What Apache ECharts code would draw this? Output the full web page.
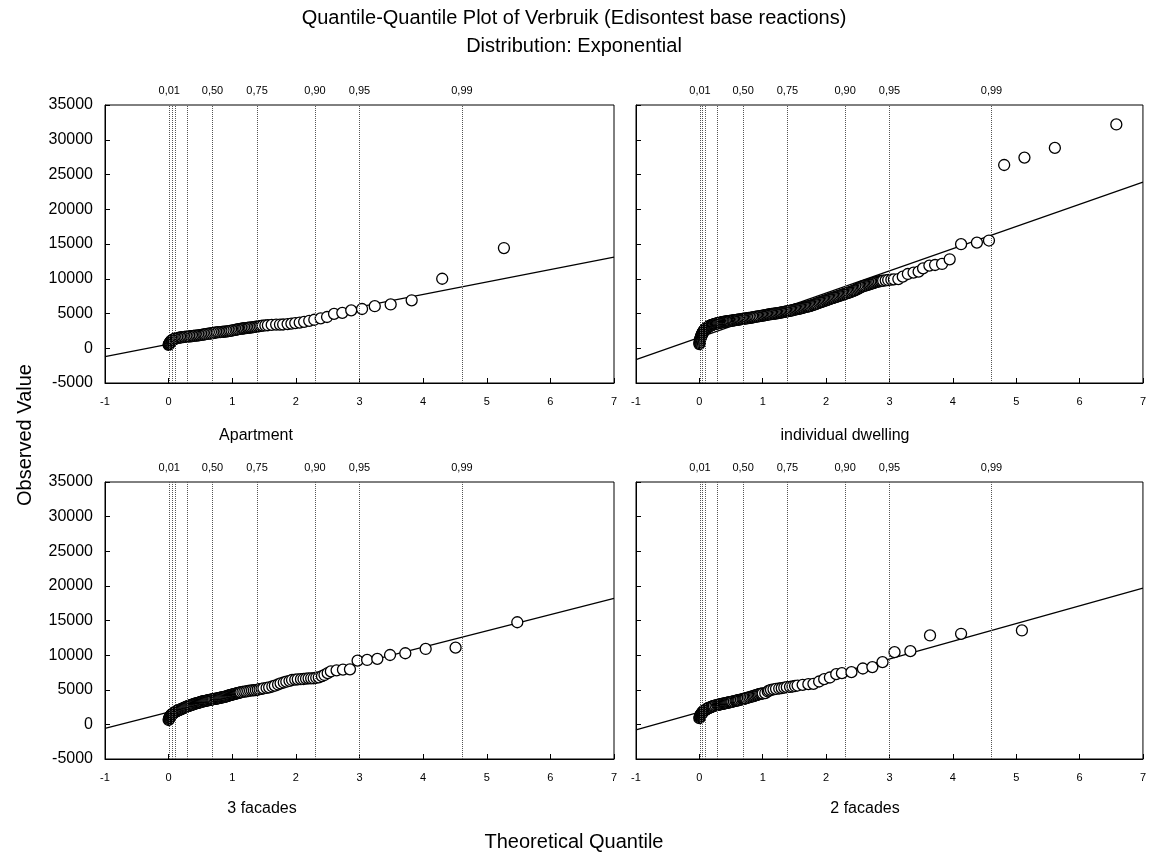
<!DOCTYPE html>
<html lang="en">
  <head>
    <meta charset="utf-8" />
    <title>Quantile-Quantile Plot of Verbruik</title>
    <style>
      * {
        margin: 0;
        padding: 0;
      }

      #chart-container {
        position: relative;
        width: 1149px;
        height: 856px;
        overflow: hidden;
        background: #fff;
      }
    </style>
  </head>

  <body>
    <div id="chart-container"></div>
    <script src="https://cdn.jsdelivr.net/npm/echarts@6/dist/echarts.min.js"></script>
    <script>
      // panel names, in drawing order: top-left, top-right, bottom-left, bottom-right
      var panelNames = ["Apartment", "individual dwelling", "3 facades", "2 facades"];

      // dotted reference lines (exponential quantiles) and their labels
      var quantilePos = [0.01, 0.05, 0.105, 0.29, 0.69, 1.39, 2.30, 3.00, 4.61];
      var quantileLabels = ["0,01", "", "", "", "0,50", "0,75", "0,90", "0,95", "0,99"];

      // tick labels
      var xTicks = [-1, 0, 1, 2, 3, 4, 5, 6, 7];
      var yTicks = [-5000, 0, 5000, 10000, 15000, 20000, 25000, 30000, 35000];

      var apartment = [
        [0.0, 480], [0.005, 560], [0.01, 650], [0.015, 740], [0.02, 820], [0.03, 950],
        [0.04, 1060], [0.05, 1120], [0.06, 1180], [0.07, 1240], [0.08, 1300], [0.1, 1370],
        [0.115, 1410], [0.13, 1440], [0.15, 1480], [0.17, 1520], [0.19, 1560], [0.21, 1590],
        [0.23, 1615], [0.25, 1640], [0.275, 1660], [0.3, 1680], [0.325, 1705], [0.35, 1730],
        [0.37, 1755], [0.39, 1780], [0.415, 1805], [0.44, 1830], [0.465, 1855], [0.49, 1880],
        [0.515, 1915], [0.54, 1950], [0.56, 1985], [0.58, 2020], [0.605, 2055], [0.63, 2090],
        [0.655, 2125], [0.68, 2160], [0.705, 2195], [0.73, 2230], [0.755, 2270], [0.78, 2310],
        [0.81, 2330], [0.84, 2350], [0.865, 2375], [0.89, 2400], [0.915, 2435], [0.94, 2470],
        [0.965, 2510], [0.99, 2550], [1.02, 2600], [1.05, 2650], [1.075, 2700], [1.1, 2740],
        [1.125, 2775], [1.15, 2810], [1.17, 2845], [1.19, 2880], [1.215, 2905], [1.24, 2930],
        [1.26, 2955], [1.28, 2980], [1.305, 3015], [1.33, 3050], [1.355, 3075], [1.38, 3100],
        [1.405, 3145], [1.43, 3190], [1.455, 3220], [1.48, 3250], [1.52, 3280], [1.56, 3310],
        [1.62, 3360], [1.69, 3400], [1.75, 3410], [1.8, 3420], [1.87, 3480], [1.93, 3550],
        [1.99, 3620], [2.06, 3700], [2.13, 3800], [2.21, 3950], [2.29, 4100], [2.39, 4300],
        [2.49, 4500], [2.6, 4950], [2.73, 5100], [2.87, 5450], [3.04, 5650], [3.24, 6050],
        [3.49, 6300], [3.82, 6900], [4.3, 10000], [5.27, 14420]
      ];
      var dwelling = [
        [0.0, 600], [0.003, 750], [0.005, 900], [0.008, 1050], [0.01, 1200], [0.015, 1350],
        [0.02, 1500], [0.025, 1650], [0.03, 1800], [0.035, 1880], [0.04, 1980], [0.045, 2100],
        [0.05, 2170], [0.055, 2260], [0.06, 2350], [0.065, 2420], [0.07, 2480], [0.075, 2540],
        [0.08, 2600], [0.085, 2650], [0.09, 2700], [0.095, 2750], [0.1, 2800], [0.108, 2850],
        [0.115, 2900], [0.122, 2950], [0.13, 3000], [0.138, 3050], [0.145, 3100], [0.152, 3150],
        [0.16, 3200], [0.17, 3240], [0.18, 3280], [0.19, 3315], [0.2, 3350], [0.212, 3390],
        [0.225, 3430], [0.237, 3465], [0.25, 3500], [0.262, 3530], [0.275, 3560], [0.288, 3590],
        [0.3, 3620], [0.315, 3655], [0.33, 3690], [0.345, 3720], [0.36, 3750], [0.375, 3775],
        [0.39, 3800], [0.405, 3825], [0.42, 3850], [0.435, 3870], [0.45, 3890], [0.465, 3910],
        [0.48, 3930], [0.5, 3955], [0.52, 3980], [0.535, 4005], [0.55, 4030], [0.57, 4055],
        [0.59, 4080], [0.605, 4105], [0.62, 4130], [0.64, 4160], [0.66, 4190], [0.68, 4220],
        [0.7, 4250], [0.72, 4275], [0.74, 4300], [0.76, 4325], [0.78, 4350], [0.8, 4380],
        [0.82, 4410], [0.84, 4445], [0.86, 4480], [0.88, 4515], [0.9, 4550], [0.925, 4585],
        [0.95, 4620], [0.975, 4660], [1.0, 4700], [1.02, 4740], [1.04, 4780], [1.06, 4810],
        [1.08, 4840], [1.1, 4870], [1.12, 4900], [1.14, 4925], [1.16, 4950], [1.18, 4975],
        [1.2, 5000], [1.22, 5030], [1.24, 5060], [1.26, 5095], [1.28, 5130], [1.3, 5165],
        [1.32, 5200], [1.34, 5235], [1.36, 5270], [1.38, 5305], [1.4, 5340], [1.42, 5380],
        [1.44, 5420], [1.46, 5460], [1.48, 5500], [1.5, 5540], [1.52, 5580], [1.54, 5620],
        [1.56, 5660], [1.58, 5705], [1.6, 5750], [1.62, 5800], [1.64, 5850], [1.66, 5900],
        [1.68, 5950], [1.7, 5990], [1.72, 6030], [1.74, 6075], [1.76, 6120], [1.78, 6185],
        [1.8, 6250], [1.82, 6315], [1.84, 6380], [1.86, 6445], [1.88, 6510], [1.9, 6580],
        [1.92, 6650], [1.94, 6710], [1.96, 6770], [1.98, 6835], [2.0, 6900], [2.02, 6965],
        [2.04, 7030], [2.06, 7100], [2.08, 7170], [2.1, 7225], [2.12, 7280], [2.14, 7340],
        [2.16, 7400], [2.18, 7460], [2.2, 7520], [2.22, 7585], [2.24, 7650], [2.26, 7710],
        [2.28, 7770], [2.3, 7835], [2.32, 7900], [2.34, 7955], [2.36, 8010], [2.38, 8070],
        [2.4, 8130], [2.42, 8210], [2.44, 8290], [2.46, 8370], [2.48, 8450], [2.5, 8550],
        [2.52, 8650], [2.54, 8750], [2.56, 8850], [2.58, 8915], [2.6, 8980], [2.625, 9040],
        [2.65, 9100], [2.67, 9160], [2.69, 9220], [2.71, 9280], [2.73, 9340], [2.75, 9400],
        [2.77, 9460], [2.79, 9520], [2.81, 9580], [2.835, 9615], [2.86, 9650], [2.88, 9685],
        [2.9, 9720], [2.94, 9770], [2.98, 9820], [3.03, 9870], [3.07, 9910], [3.14, 9960],
        [3.21, 10300], [3.29, 10680], [3.38, 10880], [3.46, 11020], [3.53, 11500], [3.63, 11890],
        [3.72, 11980], [3.83, 12130], [3.95, 12800], [4.13, 14970], [4.38, 15200], [4.57, 15500],
        [4.81, 26370], [5.13, 27430], [5.61, 28830], [6.58, 32200]
      ];
      var threeFacades = [
        [0.0, 630], [0.005, 760], [0.01, 900], [0.015, 1000], [0.02, 1110], [0.025, 1170],
        [0.03, 1230], [0.035, 1290], [0.04, 1350], [0.047, 1410], [0.055, 1470], [0.062, 1530],
        [0.07, 1590], [0.08, 1655], [0.09, 1720], [0.1, 1785], [0.11, 1850], [0.122, 1905],
        [0.135, 1960], [0.147, 2015], [0.16, 2070], [0.175, 2125], [0.19, 2180], [0.205, 2240],
        [0.22, 2300], [0.235, 2360], [0.25, 2420], [0.265, 2485], [0.28, 2550], [0.295, 2600],
        [0.31, 2650], [0.325, 2700], [0.34, 2750], [0.355, 2800], [0.37, 2850], [0.385, 2895],
        [0.4, 2940], [0.415, 2980], [0.43, 3020], [0.445, 3060], [0.46, 3100], [0.475, 3145],
        [0.49, 3190], [0.505, 3235], [0.52, 3280], [0.535, 3310], [0.55, 3340], [0.565, 3370],
        [0.58, 3400], [0.595, 3430], [0.61, 3460], [0.625, 3490], [0.64, 3520], [0.655, 3550],
        [0.67, 3580], [0.685, 3610], [0.7, 3640], [0.72, 3670], [0.74, 3700], [0.755, 3730],
        [0.77, 3760], [0.785, 3790], [0.8, 3820], [0.815, 3850], [0.83, 3880], [0.845, 3910],
        [0.86, 3940], [0.875, 3970], [0.89, 4000], [0.905, 4045], [0.92, 4090], [0.935, 4130],
        [0.95, 4170], [0.965, 4215], [0.98, 4260], [0.995, 4300], [1.01, 4340], [1.025, 4375],
        [1.04, 4410], [1.055, 4445], [1.07, 4480], [1.085, 4520], [1.1, 4560], [1.115, 4595],
        [1.13, 4630], [1.16, 4680], [1.19, 4720], [1.22, 4770], [1.25, 4820], [1.28, 4860],
        [1.31, 4900], [1.34, 4930], [1.37, 4960], [1.4, 5020], [1.43, 5080], [1.46, 5140],
        [1.49, 5200], [1.54, 5270], [1.58, 5350], [1.63, 5470], [1.67, 5590], [1.72, 5760],
        [1.76, 5930], [1.81, 6050], [1.85, 6170], [1.9, 6290], [1.94, 6410], [1.99, 6460],
        [2.03, 6510], [2.08, 6530], [2.12, 6550], [2.16, 6600], [2.2, 6650], [2.24, 6650],
        [2.28, 6660], [2.32, 6730], [2.36, 6800], [2.41, 6960], [2.45, 7130], [2.5, 7400],
        [2.55, 7650], [2.64, 7800], [2.74, 7900], [2.85, 7950], [2.97, 9200], [3.12, 9300],
        [3.28, 9450], [3.48, 10020], [3.72, 10270], [4.04, 10890], [4.51, 11080], [5.48, 14750]
      ];
      var twoFacades = [
        [0.0, 900], [0.005, 1030], [0.01, 1150], [0.015, 1260], [0.02, 1380], [0.025, 1440],
        [0.03, 1500], [0.035, 1560], [0.04, 1620], [0.045, 1680], [0.05, 1740], [0.055, 1800],
        [0.06, 1860], [0.067, 1915], [0.075, 1970], [0.082, 2025], [0.09, 2080], [0.1, 2135],
        [0.11, 2190], [0.12, 2240], [0.13, 2290], [0.142, 2340], [0.155, 2390], [0.167, 2435],
        [0.18, 2480], [0.192, 2530], [0.205, 2580], [0.217, 2630], [0.23, 2680], [0.255, 2740],
        [0.28, 2800], [0.295, 2830], [0.31, 2860], [0.325, 2890], [0.34, 2920], [0.355, 2950],
        [0.37, 2980], [0.385, 3010], [0.4, 3040], [0.415, 3070], [0.43, 3100], [0.445, 3130],
        [0.46, 3160], [0.475, 3190], [0.49, 3220], [0.505, 3250], [0.52, 3280], [0.545, 3340],
        [0.57, 3400], [0.585, 3430], [0.6, 3460], [0.615, 3490], [0.63, 3520], [0.655, 3580],
        [0.68, 3640], [0.695, 3675], [0.71, 3710], [0.725, 3745], [0.74, 3780], [0.765, 3850],
        [0.79, 3930], [0.815, 3990], [0.84, 4050], [0.86, 4110], [0.88, 4170], [0.9, 4230],
        [0.92, 4290], [0.94, 4350], [0.96, 4410], [0.98, 4435], [1.0, 4460], [1.04, 4510],
        [1.08, 4750], [1.1, 4870], [1.13, 4990], [1.17, 5060], [1.21, 5130], [1.26, 5180],
        [1.3, 5230], [1.34, 5300], [1.38, 5370], [1.43, 5420], [1.47, 5470], [1.51, 5540],
        [1.55, 5610], [1.63, 5710], [1.72, 5810], [1.8, 5850], [1.89, 6190], [1.97, 6530],
        [2.06, 6770], [2.16, 7250], [2.25, 7400], [2.4, 7540], [2.58, 8070], [2.73, 8270],
        [2.89, 8980], [3.08, 10430], [3.33, 10570], [3.64, 12840], [4.13, 13080], [5.09, 13560]
      ];
      var panelPoints = [apartment, dwelling, threeFacades, twoFacades];

      // fitted lines, read at the left and right edge of each panel
      var fitLines = [
        [[-1, -1200], [7, 13100]],
        [[-1, -1640], [7, 23900]],
        [[-1, -580], [7, 18200]],
        [[-1, -790], [7, 19670]]
      ];

      var dom = document.getElementById("chart-container");
      var myChart = echarts.init(dom, null, { renderer: "canvas" });

      var FONT = "Liberation Sans, Arial, sans-serif";
      var boxes = [
        { left: 105, top: 105, width: 509, height: 278 },
        { left: 636, top: 105, width: 508, height: 278 },
        { left: 105, top: 482, width: 509, height: 277 },
        { left: 636, top: 482, width: 508, height: 277 }
      ];
      var labelPos = [
        [256, 436], [845, 436], [262, 809], [865, 809]
      ];

      var grids = [], xAxes = [], yAxes = [], series = [], texts = [];
      boxes.forEach(function (b, i) {
        grids.push({
          left: b.left, top: b.top, width: b.width, height: b.height,
          show: true, borderColor: "#000", borderWidth: 1, backgroundColor: "#fff"
        });
        xAxes.push({
          gridIndex: i, type: "value",
          min: xTicks[0], max: xTicks[xTicks.length - 1], interval: 1,
          axisLine: { onZero: false, lineStyle: { color: "#000", width: 1 } },
          axisTick: { inside: true, length: 5, lineStyle: { color: "#000" } },
          axisLabel: { color: "#000", fontSize: 11, fontFamily: FONT, margin: 13 },
          splitLine: { show: false }
        });
        yAxes.push({
          gridIndex: i, type: "value",
          min: yTicks[0], max: yTicks[yTicks.length - 1], interval: 5000,
          axisLine: { onZero: false, lineStyle: { color: "#000", width: 1 } },
          axisTick: { inside: true, length: 5, lineStyle: { color: "#000" } },
          axisLabel: {
            show: i % 2 === 0, color: "#000", fontSize: 16, fontFamily: FONT, margin: 12,
            formatter: function (v) { return String(v); }
          },
          splitLine: { show: false }
        });
        series.push({
          type: "line", xAxisIndex: i, yAxisIndex: i,
          data: fitLines[i], symbol: "none", silent: true,
          lineStyle: { color: "#000", width: 1.2 }, z: 3,
          markLine: {
            silent: true, symbol: ["none", "none"], animation: false,
            lineStyle: { type: [1, 1], color: "#555", width: 1 },
            data: quantilePos.map(function (q, k) {
              return {
                xAxis: q,
                label: {
                  show: quantileLabels[k] !== "", formatter: quantileLabels[k],
                  position: "end", distance: 9,
                  color: "#000", fontSize: 11, fontFamily: FONT
                }
              };
            })
          }
        });
        series.push({
          type: "scatter", xAxisIndex: i, yAxisIndex: i,
          data: panelPoints[i], symbol: "circle", symbolSize: 11,
          itemStyle: { color: "#fff", borderColor: "#000", borderWidth: 1.3, opacity: 1 },
          z: 4
        });
        texts.push({
          x: labelPos[i][0], y: labelPos[i][1],
          style: { text: panelNames[i], fill: "#000", font: "16px " + FONT, textAlign: "center", textVerticalAlign: "middle" }
        });
      });

      var option = {
        animation: false,
        backgroundColor: "#fff",
        grid: grids,
        xAxis: xAxes,
        yAxis: yAxes,
        series: series,
        graphic: texts.map(function (t) {
          return { type: "text", x: t.x, y: t.y, style: t.style };
        }).concat([
          { type: "text", x: 574, y: 18, style: { text: "Quantile-Quantile Plot of Verbruik (Edisontest base reactions)", fill: "#000", font: "20px " + FONT, textAlign: "center", textVerticalAlign: "middle" } },
          { type: "text", x: 574, y: 46, style: { text: "Distribution: Exponential", fill: "#000", font: "20px " + FONT, textAlign: "center", textVerticalAlign: "middle" } },
          { type: "text", x: 574, y: 842, style: { text: "Theoretical Quantile", fill: "#000", font: "20px " + FONT, textAlign: "center", textVerticalAlign: "middle" } },
          { type: "text", x: 25, y: 435, rotation: Math.PI / 2, style: { text: "Observed Value", fill: "#000", font: "20px " + FONT, textAlign: "center", textVerticalAlign: "middle" } }
        ])
      };

      if (option && typeof option === "object") {
        myChart.setOption(option);
      }

      window.addEventListener("resize", myChart.resize);
    </script>
  </body>
</html>
